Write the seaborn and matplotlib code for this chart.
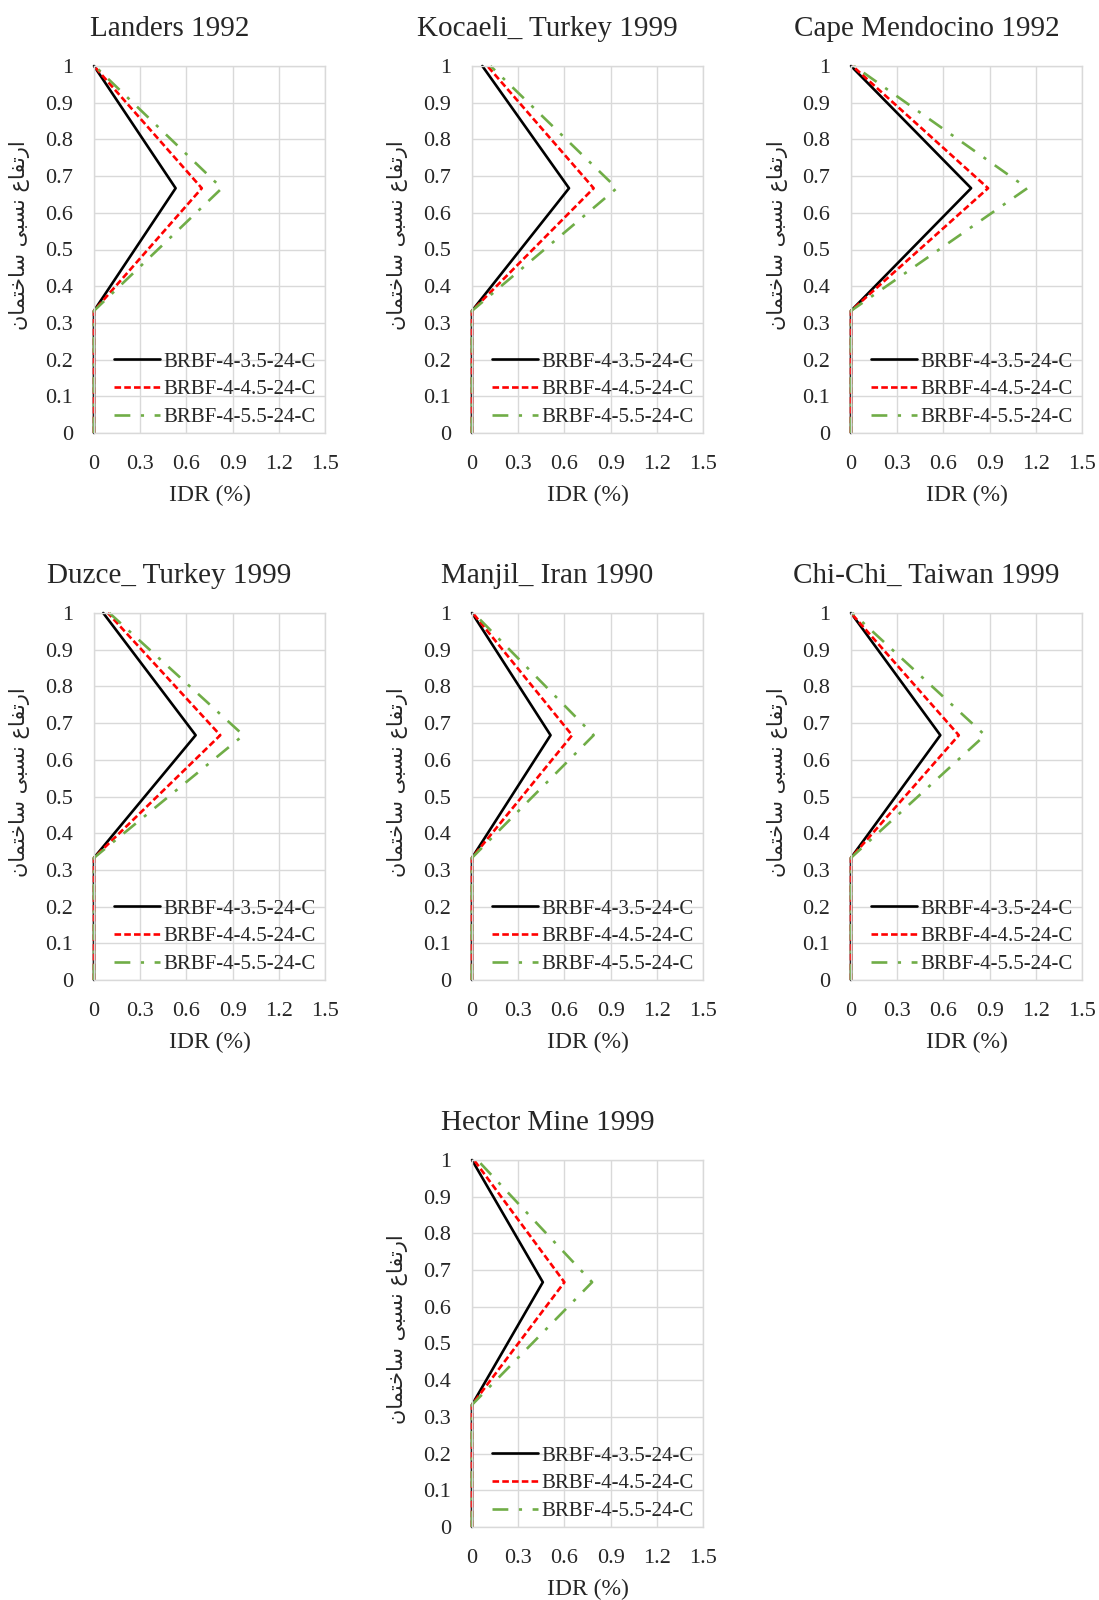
import matplotlib
matplotlib.use("Agg")
import matplotlib.pyplot as plt
import seaborn as sns
import pandas as pd

# ---------------- data ----------------
heights = [0.0, 0.333, 0.667, 1.0]
models = ["BRBF-4-3.5-24-C", "BRBF-4-4.5-24-C", "BRBF-4-5.5-24-C"]
titles = ["Landers 1992", "Kocaeli_ Turkey 1999", "Cape Mendocino 1992",
          "Duzce_ Turkey 1999", "Manjil_ Iran 1990", "Chi-Chi_ Taiwan 1999",
          "Hector Mine 1999"]

landers = [[0, 0, 0.53, 0.0], [0, 0, 0.70, 0.0], [0, 0, 0.83, 0.005]]
kocaeli = [[0, 0, 0.63, 0.067], [0, 0, 0.79, 0.10], [0, 0, 0.94, 0.12]]
cape = [[0, 0, 0.78, 0.0], [0, 0, 0.89, 0.01], [0, 0, 1.145, 0.02]]
duzce = [[0, 0, 0.66, 0.06], [0, 0, 0.82, 0.09], [0, 0, 0.97, 0.10]]
manjil = [[0, 0, 0.51, 0.0], [0, 0, 0.65, 0.005], [0, 0, 0.79, 0.01]]
chichi = [[0, 0, 0.58, 0.0], [0, 0, 0.70, 0.0], [0, 0, 0.87, 0.01]]
hector = [[0, 0, 0.46, 0.0], [0, 0, 0.60, 0.013], [0, 0, 0.78, 0.035]]
records = [landers, kocaeli, cape, duzce, manjil, chichi, hector]

x_ticks = [0, 0.3, 0.6, 0.9, 1.2, 1.5]
x_tick_labels = ["0", "0.3", "0.6", "0.9", "1.2", "1.5"]
y_ticks = [0, 0.1, 0.2, 0.3, 0.4, 0.5, 0.6, 0.7, 0.8, 0.9, 1.0]
y_tick_labels = ["0", "0.1", "0.2", "0.3", "0.4", "0.5", "0.6", "0.7", "0.8", "0.9", "1"]
x_label = "IDR (%)"
y_label_logical = "ارتفاع نسبی ساختمان"
# shaped (presentation forms) in visual order for matplotlib
y_label_visual = ("\uFEE5\uFE8E\uFEE4\uFE98\uFEA7\uFE8E\uFEB3 "
                  "\uFEF0\uFE92\uFEB4\uFEE7 "
                  "\uFEC9\uFE8E\uFED4\uFE97\uFEAD\uFE8D")

# ---------------- style ----------------
sns.set_theme(style="white")
plt.rcParams["font.family"] = ["Liberation Serif", "DejaVu Serif"]

palette = {models[0]: "#000000", models[1]: "#FF0000", models[2]: "#70AD47"}
dashes = {models[0]: "", models[1]: (2.5, 1.2), models[2]: (6, 4, 1.2, 4)}

W, H = 1099, 1600
fig = plt.figure(figsize=(W / 100, H / 100), dpi=100)

col_left = [94, 472, 851]
row_top = [66, 613, 1160]
aw, ah = 231, 367
positions = [(0, 0), (0, 1), (0, 2), (1, 0), (1, 1), (1, 2), (2, 1)]

for i, (r, c) in enumerate(positions):
    L, T = col_left[c], row_top[r]
    ax = fig.add_axes([L / W, 1 - (T + ah) / H, aw / W, ah / H])
    rows = []
    for m, vals in zip(models, records[i]):
        for h, v in zip(heights, vals):
            rows.append({"idr": v, "h": h, "model": m})
    df = pd.DataFrame(rows)
    sns.lineplot(data=df, x="idr", y="h", hue="model", style="model",
                 palette=palette, dashes=dashes, orient="y", estimator=None,
                 linewidth=1.9, ax=ax)
    for ln in ax.get_lines():
        ln.set_clip_on(False)
    ax.set_xlim(0, 1.5)
    ax.set_ylim(0, 1)
    ax.set_xticks(x_ticks)
    ax.set_xticklabels(x_tick_labels, fontsize=16)
    ax.set_yticks(y_ticks)
    ax.set_yticklabels(y_tick_labels, fontsize=16)
    ax.tick_params(axis="x", length=0, pad=16)
    ax.tick_params(axis="y", length=0, pad=15)
    ax.grid(True, color="#D9D9D9", linewidth=1.0)
    for s in ax.spines.values():
        s.set_color("#D9D9D9")
        s.set_linewidth(1.0)
    ax.set_axisbelow(True)
    ax.set_xlabel("")
    ax.set_ylabel("")
    ax.legend(loc="lower left", bbox_to_anchor=(0.07, 0.004), frameon=False,
              fontsize=15, handlelength=2.2, handletextpad=0.15,
              labelspacing=0.4, borderpad=0.2, borderaxespad=0.0)
    # titles and labels
    cx = L + aw / 2
    fig.text((cx - 40) / W, 1 - (T - 37) / H, titles[i], fontsize=21,
             ha="center", va="center")
    fig.text(cx / W, 1 - (T + ah + 62) / H, x_label, fontsize=17,
             ha="center", va="center")
    fig.text((L - 74) / W, 1 - (T + ah / 2 - 14) / H, y_label_visual,
             fontsize=15, family=["DejaVu Sans"], rotation=90,
             ha="center", va="center")

fig.savefig("out.png", dpi=100, facecolor="white")
